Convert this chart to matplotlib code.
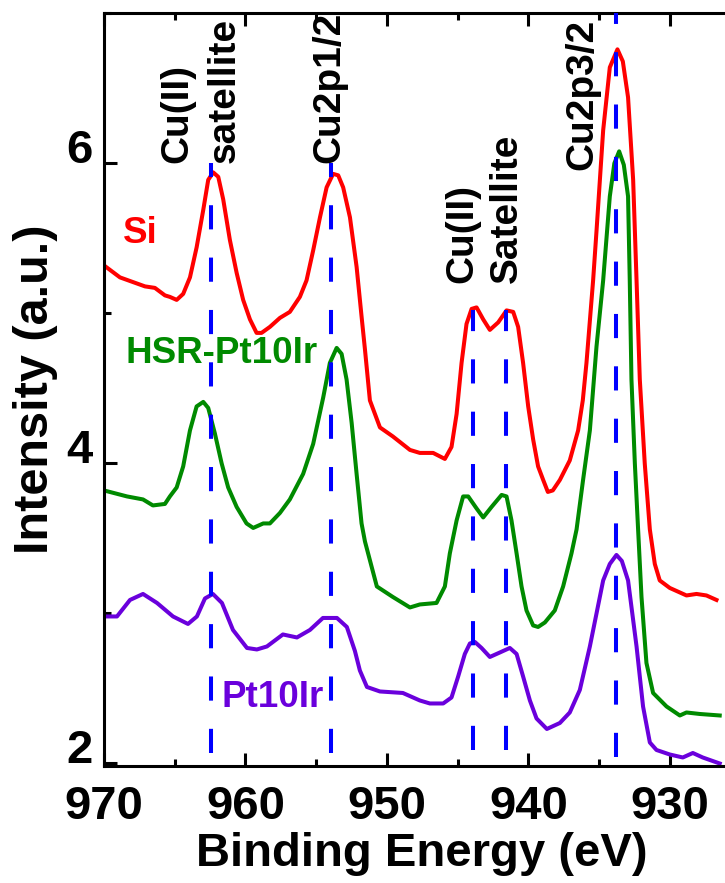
import matplotlib
matplotlib.use("Agg")
import matplotlib.pyplot as plt
from matplotlib.ticker import MultipleLocator

plt.rcParams['font.family'] = ['Liberation Sans', 'DejaVu Sans']
plt.rcParams['font.weight'] = 'bold'

# ---- data (binding energy eV, intensity a.u.) ----
si_energy = [970.00, 968.87, 967.10, 966.40, 965.69, 965.34, 964.86, 964.40, 963.92, 963.45,
             962.98, 962.63, 962.28, 961.92, 961.57, 961.10, 960.62, 960.16, 959.68, 959.21,
             958.86, 958.27, 957.56, 956.86, 956.15, 955.68, 955.21, 954.73, 954.26, 953.80,
             953.44, 953.09, 952.61, 952.14, 951.79, 951.55, 951.20, 950.49, 949.58, 948.37,
             947.67, 946.73, 945.90, 945.43, 945.07, 944.72, 944.37, 944.01, 943.66, 943.19,
             942.72, 942.13, 941.54, 941.07, 940.72, 940.37, 940.01, 939.66, 939.31, 938.95,
             938.62, 938.27, 937.77, 937.07, 936.48, 936.15, 935.89, 935.42, 935.18, 934.71,
             934.24, 933.70, 933.32, 932.95, 932.59, 932.35, 932.12, 931.77, 931.41, 931.06,
             930.71, 930.00, 928.82, 928.11, 927.41, 926.70]
si_intensity = [5.32, 5.24, 5.18, 5.17, 5.12, 5.11, 5.09, 5.13, 5.24, 5.44,
                5.69, 5.89, 5.94, 5.91, 5.76, 5.49, 5.27, 5.09, 4.96, 4.87,
                4.87, 4.91, 4.97, 5.01, 5.11, 5.22, 5.42, 5.64, 5.84, 5.93,
                5.92, 5.84, 5.64, 5.31, 4.98, 4.76, 4.42, 4.24, 4.18, 4.09,
                4.07, 4.07, 4.03, 4.11, 4.33, 4.67, 4.93, 5.03, 5.04, 4.96,
                4.89, 4.94, 5.02, 5.01, 4.91, 4.67, 4.38, 4.16, 3.98, 3.89,
                3.81, 3.82, 3.89, 4.02, 4.22, 4.42, 4.67, 5.22, 5.55, 6.22,
                6.64, 6.76, 6.68, 6.44, 5.89, 5.22, 4.56, 4.00, 3.56, 3.33,
                3.22, 3.17, 3.12, 3.13, 3.12, 3.09]

hsr_energy = [970.00, 968.37, 967.24, 966.54, 965.69, 965.34, 964.86, 964.40, 963.92, 963.45,
              962.98, 962.63, 962.16, 961.68, 961.22, 960.62, 959.92, 959.45, 958.74, 958.27,
              957.56, 956.86, 955.92, 955.21, 954.50, 954.03, 953.55, 953.20, 952.85, 952.49,
              952.14, 951.79, 951.55, 950.71, 949.58, 948.37, 947.67, 946.49, 945.90, 945.55,
              945.07, 944.61, 944.25, 943.66, 943.19, 942.60, 941.89, 941.54, 941.19, 940.83,
              940.48, 940.13, 939.66, 939.31, 938.83, 938.13, 937.54, 936.95, 936.59, 936.13,
              935.65, 935.18, 934.71, 934.24, 933.92, 933.58, 933.25, 932.95, 932.83, 932.71,
              932.47, 932.24, 932.00, 931.65, 931.18, 930.23, 929.29, 928.82, 927.88, 926.47]
hsr_intensity = [3.82, 3.78, 3.76, 3.72, 3.73, 3.78, 3.84, 3.98, 4.22, 4.38,
                 4.41, 4.37, 4.20, 4.00, 3.84, 3.71, 3.60, 3.57, 3.60, 3.60,
                 3.67, 3.76, 3.93, 4.13, 4.44, 4.67, 4.77, 4.73, 4.56, 4.27,
                 3.93, 3.60, 3.48, 3.18, 3.11, 3.04, 3.06, 3.07, 3.18, 3.40,
                 3.62, 3.78, 3.78, 3.70, 3.64, 3.71, 3.79, 3.78, 3.62, 3.40,
                 3.18, 3.02, 2.92, 2.91, 2.94, 3.02, 3.18, 3.40, 3.56, 3.89,
                 4.22, 4.78, 5.22, 5.78, 6.00, 6.08, 5.99, 5.78, 5.22, 4.56,
                 4.00, 3.56, 3.11, 2.67, 2.47, 2.38, 2.32, 2.34, 2.33, 2.32]

pt_energy = [970.00, 969.08, 968.16, 967.24, 966.25, 965.12, 964.06, 963.43, 962.86, 962.30,
             961.66, 960.88, 959.89, 959.19, 958.48, 957.35, 956.36, 955.44, 954.52, 953.53,
             952.83, 952.26, 951.91, 951.41, 950.49, 948.87, 947.67, 946.96, 946.02, 945.43,
             944.96, 944.49, 944.13, 943.78, 943.31, 942.72, 942.01, 941.31, 940.83, 940.37,
             939.89, 939.42, 938.69, 937.77, 937.07, 936.36, 935.65, 934.71, 934.24, 933.77,
             933.39, 932.95, 932.35, 931.89, 931.41, 930.94, 930.00, 929.08, 928.37, 927.67,
             926.47]
pt_intensity = [2.98, 2.98, 3.09, 3.13, 3.07, 2.98, 2.93, 2.98, 3.10, 3.13,
                3.07, 2.89, 2.77, 2.76, 2.78, 2.86, 2.84, 2.89, 2.97, 2.97,
                2.91, 2.75, 2.62, 2.51, 2.48, 2.47, 2.42, 2.40, 2.40, 2.44,
                2.58, 2.73, 2.80, 2.81, 2.77, 2.71, 2.74, 2.77, 2.73, 2.58,
                2.42, 2.30, 2.23, 2.27, 2.34, 2.49, 2.78, 3.22, 3.33, 3.39,
                3.35, 3.22, 2.78, 2.38, 2.14, 2.09, 2.06, 2.04, 2.07, 2.04,
                2.00]

ref_energy = [962.46, 953.96, 943.9, 941.6, 933.8]
ref_ymin = [2.07, 2.07, 2.09, 2.09, 2.04]
ref_ymax = [6.0, 6.0, 5.02, 5.02, 7.0]

peak_labels = ["Cu(II)", "satellite", "Cu2p1/2", "Cu(II)", "Satellite", "Cu2p3/2"]
peak_label_x = [964.84, 961.45, 954.03, 944.63, 941.52, 936.15]
peak_label_y = [6.0, 6.0, 6.0, 5.2, 5.2, 5.955]

series_names = ["Si", "HSR-Pt10Ir", "Pt10Ir"]
series_label_x = [967.46, 961.66, 958.06]
series_label_y = [5.535, 4.735, 2.443]
colors = ['#ff0000', '#008a00', '#6a00dc']

fig = plt.figure(figsize=(7.25, 8.83), dpi=100)
ax = fig.add_axes([0.1434, 0.1328, 0.878, 0.8521])

lw = 2.9
ax.plot(si_energy, si_intensity, color=colors[0], lw=lw, solid_joinstyle='round')
ax.plot(hsr_energy, hsr_intensity, color=colors[1], lw=lw, solid_joinstyle='round')
ax.plot(pt_energy, pt_intensity, color=colors[2], lw=lw, solid_joinstyle='round')

for e, y0, y1 in zip(ref_energy, ref_ymin, ref_ymax):
    ax.plot([e, e], [y0, y1], color='#0000ff', lw=2.9, dashes=(6, 7), zorder=5)

for t, x, y in zip(peak_labels, peak_label_x, peak_label_y):
    ax.text(x, y, t, rotation=90, ha='center', va='bottom', fontsize=28,
            fontweight='bold', color='black', zorder=6)

for t, x, y, c in zip(series_names, series_label_x, series_label_y, colors):
    ax.text(x, y, t, ha='center', va='center', fontsize=26.5, fontweight='bold',
            color=c, zorder=6)

ax.set_xlim(970, 925)
ax.set_ylim(1.985, 7)
ax.xaxis.set_major_locator(MultipleLocator(10))
ax.xaxis.set_minor_locator(MultipleLocator(5))
ax.yaxis.set_major_locator(MultipleLocator(2))
ax.yaxis.set_minor_locator(MultipleLocator(1))

ax.tick_params(axis='both', which='major', direction='in', length=9.5, width=2.2,
               labelsize=34, top=True, right=False)
ax.tick_params(axis='both', which='minor', direction='in', length=4.8, width=2.2,
               top=True, right=False)
ax.tick_params(axis='x', which='major', pad=14)
ax.tick_params(axis='y', which='major', pad=8)
for lab in ax.get_yticklabels():
    lab.set_verticalalignment('baseline')
    lab.set_fontweight('bold')
for lab in ax.get_xticklabels():
    lab.set_fontweight('bold')

for s in ax.spines.values():
    s.set_linewidth(2.2)
ax.spines['right'].set_visible(False)

ax.set_xlabel('Binding Energy (eV)', fontsize=34, fontweight='bold', labelpad=2)
ax.set_ylabel('Intensity (a.u.)', fontsize=35, fontweight='bold', labelpad=6)

fig.savefig('out.png', dpi=100)
